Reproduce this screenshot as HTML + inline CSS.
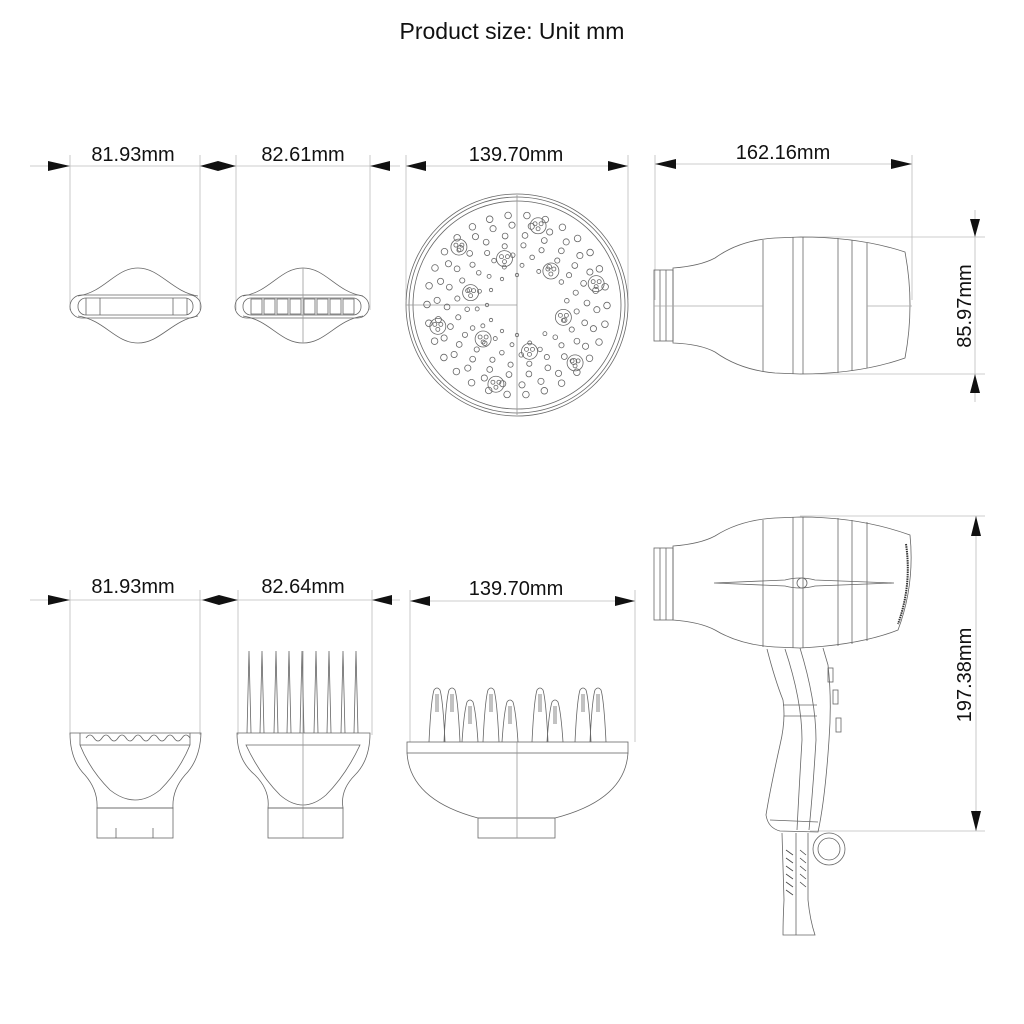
<!DOCTYPE html>
<html><head><meta charset="utf-8"><style>
html,body{margin:0;padding:0;background:#fff}
svg{display:block}
text{font-family:"Liberation Sans",sans-serif;fill:#111}
</style></head><body>
<svg id="s" width="1024" height="1024" viewBox="0 0 1024 1024" xmlns="http://www.w3.org/2000/svg">
<text x="512" y="39" font-size="23" text-anchor="middle">Product size: Unit mm</text>

<g stroke="#bbb" stroke-width="0.8" fill="none">
<line x1="70" y1="155" x2="70" y2="310"/><line x1="200" y1="155" x2="200" y2="310"/>
<line x1="236" y1="155" x2="236" y2="310"/><line x1="370" y1="155" x2="370" y2="310"/>
<line x1="406" y1="155" x2="406" y2="300"/><line x1="628" y1="155" x2="628" y2="300"/>
<line x1="655" y1="155" x2="655" y2="300"/><line x1="912" y1="155" x2="912" y2="300"/>
<line x1="30" y1="166" x2="400" y2="166"/><line x1="406" y1="166" x2="628" y2="166"/><line x1="655" y1="164" x2="912" y2="164"/>
<line x1="800" y1="237" x2="985" y2="237"/><line x1="800" y1="374" x2="985" y2="374"/>
<line x1="975" y1="210" x2="975" y2="402"/>
<line x1="70" y1="590" x2="70" y2="735"/><line x1="200" y1="590" x2="200" y2="735"/>
<line x1="238" y1="590" x2="238" y2="735"/><line x1="372" y1="590" x2="372" y2="735"/>
<line x1="410" y1="590" x2="410" y2="742"/><line x1="635" y1="590" x2="635" y2="742"/>
<line x1="30" y1="600" x2="400" y2="600"/><line x1="410" y1="601" x2="635" y2="601"/>
<line x1="800" y1="516" x2="985" y2="516"/><line x1="810" y1="831" x2="985" y2="831"/>
<line x1="976" y1="516" x2="976" y2="831"/>
</g>
<g fill="#111">
<polygon points="48,161 70,166 48,171"/><polygon points="200,166 218,161 236,166 218,171"/><polygon points="390,161 370,166 390,171"/>
<polygon points="426,161 406,166 426,171"/><polygon points="608,161 628,166 608,171"/>
<polygon points="676,159 655,164 676,169"/><polygon points="891,159 912,164 891,169"/>
<polygon points="970,219 975,237 980,219"/><polygon points="970,393 975,374 980,393"/>
<polygon points="48,595 70,600 48,605"/><polygon points="202,600 219,595 238,600 219,605"/><polygon points="392,595 372,600 392,605"/>
<polygon points="430,596 410,601 430,606"/><polygon points="615,596 635,601 615,606"/>
<polygon points="971,536 976,516 981,536"/><polygon points="971,811 976,831 981,811"/>
</g>
<g font-size="20" text-anchor="middle">
<text x="133" y="161">81.93mm</text><text x="303" y="161">82.61mm</text>
<text x="516" y="161">139.70mm</text><text x="783" y="159">162.16mm</text>
<text x="133" y="593">81.93mm</text><text x="303" y="593">82.64mm</text>
<text x="516" y="595">139.70mm</text>
<text transform="translate(971,306) rotate(-90)">85.97mm</text>
<text transform="translate(971,675) rotate(-90)">197.38mm</text>
</g>

<g stroke="#666" stroke-width="0.8" fill="none">
<!-- top nozzle 1 -->
<path d="M78,296 C105,292 115,268 138,268 C160,268 172,292 198,296"/>
<path d="M78,316 C105,320 115,343 138,343 C160,343 172,320 198,316"/>
<rect x="70" y="295" width="131" height="23" rx="11.5"/>
<rect x="78" y="298" width="115" height="17" rx="8"/>
<line x1="100" y1="298" x2="100" y2="315"/><line x1="173" y1="298" x2="173" y2="315"/>
<line x1="86" y1="298" x2="86" y2="315"/><line x1="187" y1="298" x2="187" y2="315"/>
<!-- top nozzle 2 -->
<path d="M243,296 C270,292 280,268 303,268 C326,268 336,292 363,296"/>
<path d="M243,316 C270,320 280,343 303,343 C326,343 336,320 363,316"/>
<rect x="235" y="295" width="134" height="23" rx="11.5"/>
<rect x="243" y="298" width="118" height="17" rx="8"/>
<line x1="303" y1="268" x2="303" y2="343" stroke="#999"/>
<rect x="251" y="299" width="11" height="15"/><rect x="264" y="299" width="11" height="15"/><rect x="277" y="299" width="11" height="15"/><rect x="290" y="299" width="11" height="15"/><rect x="304" y="299" width="11" height="15"/><rect x="317" y="299" width="11" height="15"/><rect x="330" y="299" width="11" height="15"/><rect x="343" y="299" width="11" height="15"/>
<!-- diffuser front -->
<circle cx="517" cy="305" r="111"/><circle cx="517" cy="305" r="108"/><circle cx="517" cy="305" r="104"/>
<line x1="517" y1="195" x2="517" y2="415" stroke="#999"/><line x1="406" y1="305" x2="517" y2="305" stroke="#999"/>
<g id="dots"></g>
<!-- top dryer -->
<rect x="654" y="270" width="19" height="71"/><line x1="660" y1="270" x2="660" y2="341"/><line x1="666" y1="270" x2="666" y2="341"/>
<path d="M673,268 Q700,266 715,258 Q740,240 775,238 L800,237 Q860,237 905,252 Q915,305 905,358 Q860,374 800,374 L775,373 Q740,370 715,352 Q700,344 673,343 Z"/>
<line x1="763" y1="240" x2="763" y2="371"/><line x1="793" y1="237" x2="793" y2="374"/><line x1="803" y1="237" x2="803" y2="374"/><line x1="838" y1="238" x2="838" y2="373"/><line x1="852" y1="240" x2="852" y2="371"/><line x1="867" y1="243" x2="867" y2="368"/>
<line x1="654" y1="306" x2="763" y2="306" stroke="#aaa"/><line x1="867" y1="306" x2="912" y2="306" stroke="#aaa"/>

<!-- bottom nozzle 1 -->
<path d="M70,733 L201,733 Q200,760 185,775 Q172,790 173,808 L97,808 Q98,790 85,775 Q70,760 70,733 Z"/>
<path d="M80,733 L80,745 Q90,770 110,790 Q135,810 160,790 Q180,770 190,745 L190,733" />
<path d="M80,745 L190,745"/>
<path d="M86,738 q4,-6 8,0 q4,6 8,0 q4,-6 8,0 q4,6 8,0 q4,-6 8,0 q4,6 8,0 q4,-6 8,0 q4,6 8,0 q4,-6 8,0 q4,6 8,0 q4,-6 8,0 q4,6 8,0 q4,-6 8,0"/>
<rect x="97" y="808" width="76" height="30"/>
<line x1="116" y1="828" x2="116" y2="838"/><line x1="153" y1="828" x2="153" y2="838"/>
<!-- bottom comb -->
<path d="M237,733 L370,733 Q370,760 355,775 Q340,790 343,808 L268,808 Q270,790 255,775 Q237,760 237,733 Z"/>
<path d="M246,745 Q260,775 280,795 Q303,815 326,795 Q346,775 360,745 Z"/>
<line x1="303" y1="651" x2="303" y2="838" stroke="#999"/>
<path d="M247,733 L249,651 L251,733 M260,733 L262,651 L264,733 M274,733 L276,651 L278,733 M287,733 L289,651 L291,733 M300,733 L302,651 L304,733 M314,733 L316,651 L318,733 M327,733 L329,651 L331,733 M341,733 L343,651 L345,733 M354,733 L356,651 L358,733"/>
<rect x="268" y="808" width="75" height="30"/>
<!-- diffuser side -->
<rect x="407" y="742" width="221" height="11"/>
<path d="M407,753 Q410,800 478,818 L555,818 Q625,800 628,753"/>
<rect x="478" y="818" width="77" height="20"/>
<line x1="517" y1="742" x2="517" y2="838" stroke="#999"/>
<g id="prongs"></g>
<!-- bottom dryer -->
<rect x="654" y="548" width="19" height="72"/><line x1="660" y1="548" x2="660" y2="620"/><line x1="666" y1="548" x2="666" y2="620"/>
<path d="M673,546 Q700,544 715,536 Q740,520 775,518 L800,517 Q860,517 910,535 Q915,585 898,630 Q860,645 800,648 L775,647 Q740,645 715,630 Q700,622 673,620 Z"/>
<line x1="763" y1="520" x2="763" y2="647"/><line x1="793" y1="517" x2="793" y2="648"/><line x1="803" y1="517" x2="803" y2="648"/><line x1="838" y1="518" x2="838" y2="646"/><line x1="852" y1="520" x2="852" y2="644"/><line x1="867" y1="522" x2="867" y2="641"/>
<path d="M714,583 L785,580 Q800,576 815,580 L894,583 L815,586 Q800,590 785,586 Z"/>
<circle cx="802" cy="583" r="5"/>
<path d="M906,544 Q912,585 898,624" stroke="#333" stroke-width="2" stroke-dasharray="1.5,0.8"/>
<!-- handle -->
<path d="M767,649 Q775,680 783,700 Q786,720 780,745 Q770,790 766,815 Q768,828 780,831 L818,832 Q825,800 829,740 Q832,700 828,665 L823,648"/>
<path d="M785,649 Q802,700 802,740 Q799,790 797,830"/><path d="M800,648 Q816,700 816,740 Q813,790 809,830"/>
<line x1="784" y1="716" x2="817" y2="716"/><line x1="783" y1="705" x2="817" y2="705"/><line x1="770" y1="820" x2="818" y2="822"/>
<rect x="828" y="668" width="5" height="14"/><rect x="833" y="690" width="5" height="14"/><rect x="836" y="718" width="5" height="14"/>
<!-- cord -->
<path d="M782,833 L784,900 Q783,920 783,935 L815,935 Q810,920 808,900 L808,833"/>
<line x1="796" y1="833" x2="796" y2="935"/>
<path d="M786,850 L793,855 M786,858 L793,863 M786,866 L793,871 M786,874 L793,879 M786,882 L793,887 M786,890 L793,895 M800,850 L806,855 M800,858 L806,863 M800,866 L806,871 M800,874 L806,879 M800,882 L806,887" stroke="#444"/>
<circle cx="829" cy="849" r="16"/><circle cx="829" cy="849" r="11"/>
</g>
</svg>
<script>
var ns="http://www.w3.org/2000/svg";
var g=document.getElementById("dots");
function c(x,y,r,par){var e=document.createElementNS(ns,"circle");e.setAttribute("cx",x);e.setAttribute("cy",y);e.setAttribute("r",r);(par||g).appendChild(e);}
var cx=517,cy=305;
var rings=[[30,12,1.7],[40,14,2],[50,16,2.3],[60,20,2.6],[70,22,2.9],[80,26,3.1],[90,30,3.3]];
rings.forEach(function(r,i){for(var k=0;k<r[1];k++){var a=k*2*Math.PI/r[1]+i*0.35;var x=cx+r[0]*Math.cos(a),y=cy+r[0]*Math.sin(a);if(x>cx-5&&x<cx+40&&y>cy-28&&y<cy+28)continue;c(x,y,r[2]);}});
for(var k=0;k<12;k++){var a=k*Math.PI/6+0.26;var R=k%2?82:48;var x=cx+R*Math.cos(a),y=cy+R*Math.sin(a);c(x,y,8);c(x-3,y-2,2);c(x+3,y-2,2);c(x,y+3,2);}
var p=document.getElementById("prongs");
[[437,690],[452,690],[470,702],[491,690],[510,702],[540,690],[555,702],[583,690],[598,690]].forEach(function(q){var e=document.createElementNS(ns,"path");var x=q[0],y=q[1];e.setAttribute("d","M"+(x-8)+",742 Q"+(x-6)+","+(y+10)+" "+(x-3)+","+y+" Q"+x+","+(y-4)+" "+(x+3)+","+y+" Q"+(x+6)+","+(y+10)+" "+(x+8)+",742 M"+(x-1)+","+(y+4)+" L"+(x-1)+","+(y+22)+" M"+(x+1)+","+(y+4)+" L"+(x+1)+","+(y+22));p.appendChild(e);});
</script>
</body></html>
